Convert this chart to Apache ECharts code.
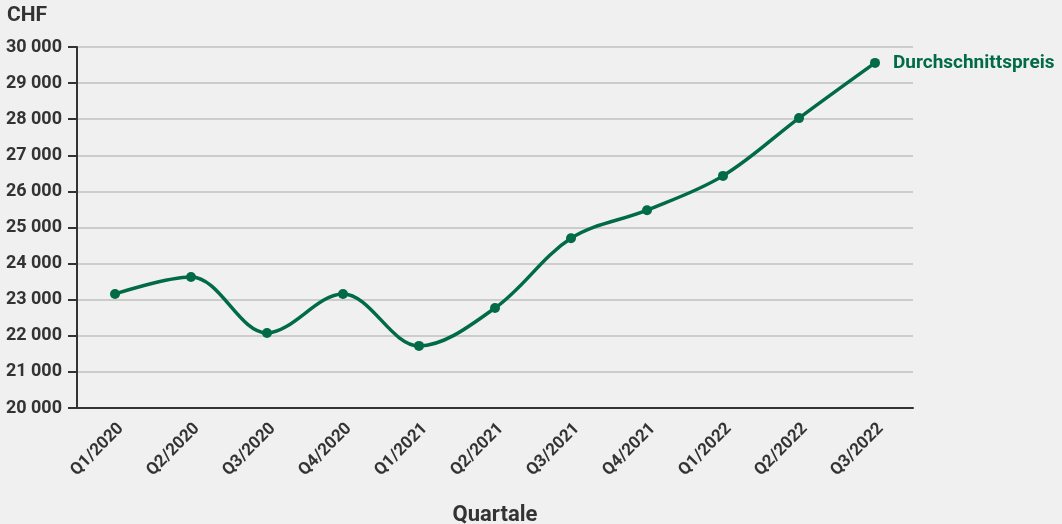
<!DOCTYPE html>
<html><head><meta charset="utf-8">
<script src="https://cdn.jsdelivr.net/npm/echarts@6/dist/echarts.min.js"></script>
<style>html,body{margin:0;padding:0;background:#f0f0f0;}#c{width:1062px;height:524px;}</style>
</head><body><div id="c"></div>
<script>
const categories = ['Q1/2020','Q2/2020','Q3/2020','Q4/2020','Q1/2021','Q2/2021','Q3/2021','Q4/2021','Q1/2022','Q2/2022','Q3/2022'];
const avgPrice = [23160, 23630, 22080, 23160, 21720, 22770, 24700, 25480, 26430, 28030, 29560];
const seriesName = 'Durchschnittspreis';
const yMin = 20000, yMax = 30000, yStep = 1000;

const green = '#006b45';
const txt = '#333333';
const chart = echarts.init(document.getElementById('c'));
chart.setOption({
  backgroundColor: '#f0f0f0',
  animation: false,
  textStyle: { fontFamily: 'Roboto' },
  grid: { left: 77, right: 149, top: 47, bottom: 116, containLabel: false, outerBoundsMode: 'none' },
  graphic: [{ type: 'text', left: 7, top: 5, style: { text: 'CHF', font: 'bold 21px Roboto', fill: txt } }],
  xAxis: {
    type: 'category', data: categories, boundaryGap: true,
    name: 'Quartale', nameLocation: 'middle', nameGap: 96,
    nameTextStyle: { fontWeight: 'bold', fontSize: 22, color: txt },
    axisLine: { lineStyle: { color: txt, width: 2 } },
    axisTick: { alignWithLabel: true, length: 9, lineStyle: { color: txt, width: 2 } },
    axisLabel: { rotate: 45, fontWeight: 'bold', fontSize: 17, color: txt, margin: 12, verticalAlign: 'top' }
  },
  yAxis: {
    type: 'value', min: yMin, max: yMax, interval: yStep,
    axisLine: { show: true, lineStyle: { color: txt, width: 2 } },
    axisTick: { show: true, length: 9, lineStyle: { color: txt, width: 2 } },
    axisLabel: { fontWeight: 'bold', fontSize: 18, color: txt, margin: 15,
      formatter: v => String(v).replace(/\B(?=(\d{3})+(?!\d))/g, ' ') },
    splitLine: { lineStyle: { color: '#cccccc', width: 2 } }
  },
  series: [{
    name: seriesName, type: 'line', data: avgPrice, smooth: 0.35,
    symbol: 'circle', symbolSize: 10,
    itemStyle: { color: green },
    lineStyle: { color: green, width: 3.5 },
    endLabel: { show: true, formatter: seriesName, color: green, fontWeight: 'bold', fontSize: 19, distance: 18, fontFamily: 'Roboto' }
  }]
});
</script></body></html>
